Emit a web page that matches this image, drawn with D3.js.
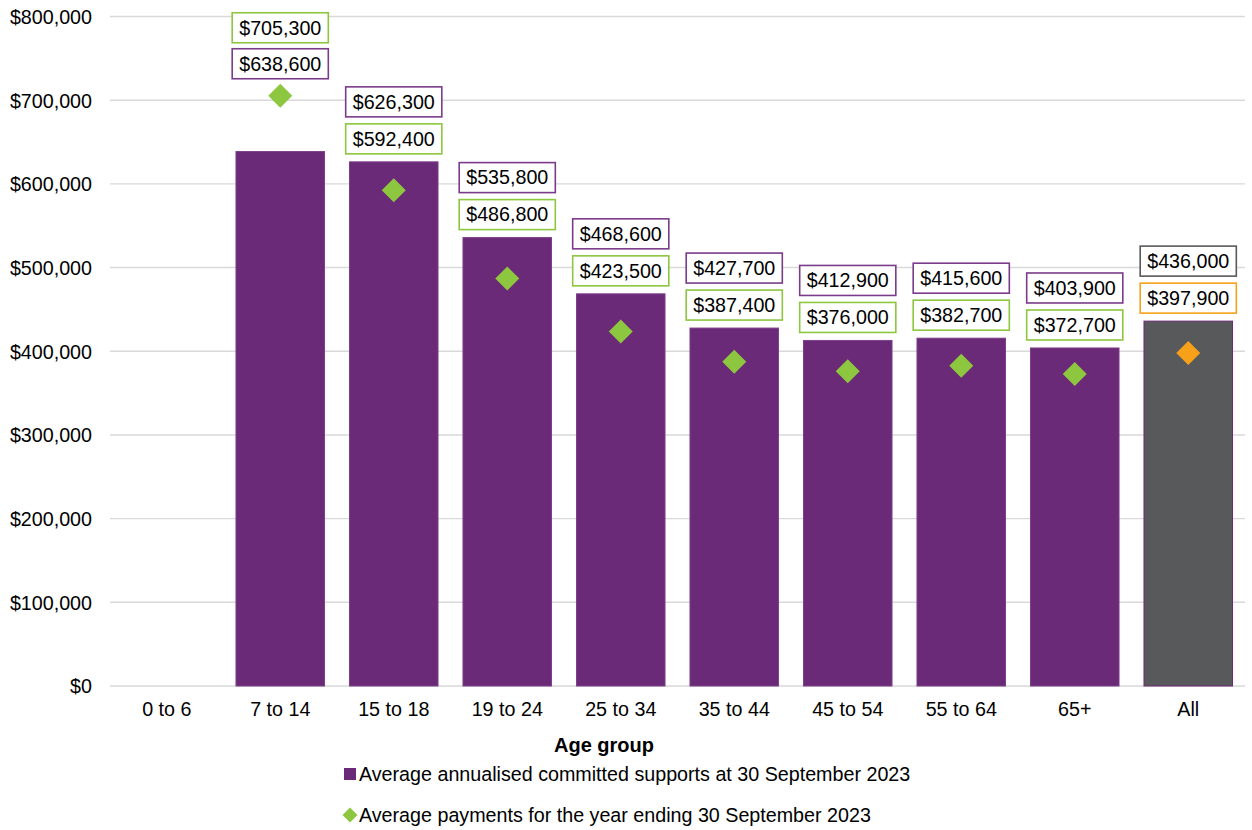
<!DOCTYPE html>
<html><head><meta charset="utf-8">
<script src="https://cdn.jsdelivr.net/npm/d3@7"></script>
<style>body{margin:0;background:#fff}text{font-family:"Liberation Sans",Arial,sans-serif;fill:#000}</style>
</head><body><svg id="c" width="1252" height="830"></svg>
<script>
const categories = ["0 to 6","7 to 14","15 to 18","19 to 24","25 to 34","35 to 44","45 to 54","55 to 64","65+","All"];
const committed = [null,638600,626300,535800,468600,427700,412900,415600,403900,436000];
const payments = [null,705300,592400,486800,423500,387400,376000,382700,372700,397900];
const yTicks = [0,100000,200000,300000,400000,500000,600000,700000,800000];
const legendLabels = ["Average annualised committed supports at 30 September 2023","Average payments for the year ending 30 September 2023"];
const xTitle = "Age group";

const purple="#6B2A77", green="#8DC63F", grey="#58595B", orange="#F7A11A", boxPurple="#7A3C8A";
const svg=d3.select("#c");
const x=d3.scaleBand().domain(categories).range([110,1245]).paddingInner(0.22).paddingOuter(0.11);
const y=d3.scaleLinear().domain([0,800000]).range([686,16.5]);
const fmt=v=>"$"+d3.format(",")(v);
const FS="19.7px";

svg.append("g").selectAll("line").data(yTicks).join("line")
 .attr("x1",110).attr("x2",1245).attr("y1",d=>y(d)).attr("y2",d=>y(d))
 .attr("stroke","#d9d9d9").attr("stroke-width",1.4);

const ya=svg.append("g").attr("transform","translate(110,0)")
 .call(d3.axisLeft(y).tickValues(yTicks).tickFormat(fmt).tickSize(0).tickPadding(18));
ya.select(".domain").remove();
ya.selectAll("text").style("font-size",FS).attr("dy","0.35em");

const xa=svg.append("g").attr("transform","translate(0,686)")
 .call(d3.axisBottom(x).tickSize(0).tickPadding(16));
xa.select(".domain").remove();
xa.selectAll("text").style("font-size",FS).attr("dy","0.71em");

const data=categories.map((c,i)=>({c,b:committed[i],p:payments[i],all:c==="All"}));
const valid=data.filter(d=>d.b!=null);

svg.append("g").selectAll("rect").data(valid).join("rect")
 .attr("x",d=>x(d.c)).attr("width",x.bandwidth())
 .attr("y",d=>y(d.b)).attr("height",d=>y(0)-y(d.b))
 .attr("fill",d=>d.all?grey:purple).attr("stroke",d=>d.all?purple:"#7d3f8a").attr("stroke-width",1);

svg.append("g").selectAll("path").data(valid).join("path")
 .attr("transform",d=>`translate(${x(d.c)+x.bandwidth()/2},${y(d.p)})`)
 .attr("d","M0,-12L12,0L0,12L-12,0Z")
 .attr("fill",d=>d.all?orange:green);

function label(cx,cy,txt,col){
  const g=svg.append("g");
  const t=g.append("text").attr("x",cx).attr("y",cy).attr("text-anchor","middle").attr("dy","0.35em").style("font-size",FS).text(txt);
  const w=t.node().getComputedTextLength()+14;
  g.insert("rect","text").attr("x",cx-w/2).attr("y",cy-15).attr("width",w).attr("height",30)
   .attr("fill","#fff").attr("stroke",col).attr("stroke-width",1.6);
}
valid.forEach(d=>{
  const cx=x(d.c)+x.bandwidth()/2;
  const barCol=d.all?grey:boxPurple, ptCol=d.all?orange:green;
  if(d.p>d.b){
    const lower=y(d.p)-32;
    label(cx,lower,fmt(d.b),barCol);
    label(cx,lower-36,fmt(d.p),ptCol);
  } else {
    const lower=y(d.b)-23;
    label(cx,lower,fmt(d.p),ptCol);
    label(cx,lower-37,fmt(d.b),barCol);
  }
});

svg.append("text").attr("x",604).attr("y",745).attr("dy","0.35em").attr("text-anchor","middle")
 .style("font-size","20px").style("font-weight","bold").text(xTitle);

const lg=svg.append("g");
lg.append("rect").attr("x",344).attr("y",768).attr("width",12).attr("height",12).attr("fill",purple);
lg.append("text").attr("x",359).attr("y",774).attr("dy","0.35em").style("font-size",FS).text(legendLabels[0]);
lg.append("path").attr("transform","translate(350,815)").attr("d","M0,-7.5L7.5,0L0,7.5L-7.5,0Z").attr("fill",green);
lg.append("text").attr("x",359).attr("y",815).attr("dy","0.35em").style("font-size",FS).text(legendLabels[1]);
</script></body></html>
